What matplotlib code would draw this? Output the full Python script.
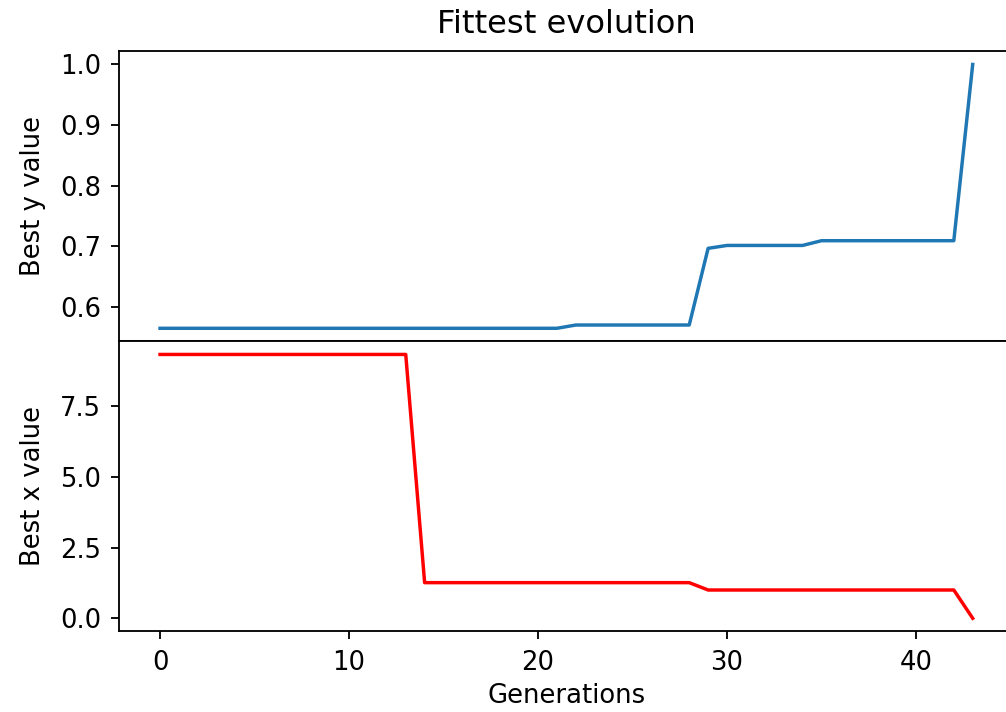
import matplotlib
matplotlib.use("Agg")
import matplotlib.pyplot as plt

generations = list(range(44))
best_y = ([0.5644] * 22 + [0.5698] * 7 + [0.6964] + [0.7012] * 5 + [0.7090] * 8 + [1.0])
best_x = ([9.33] * 14 + [1.26] * 15 + [1.0] * 14 + [0.0])

plt.rcParams["font.size"] = 11.3
plt.rcParams["axes.titlesize"] = 14
plt.rcParams["axes.labelsize"] = 11.3
plt.rcParams["xtick.labelsize"] = 11.3
plt.rcParams["ytick.labelsize"] = 11.3
plt.rcParams["xtick.major.pad"] = 4.5
plt.rcParams["ytick.major.pad"] = 4.5
plt.rcParams["axes.labelpad"] = 6

DPI = 165
fig = plt.figure(figsize=(1006 / DPI, 712 / DPI), dpi=DPI)
left, width = 0.1187, 0.8886
ax1 = fig.add_axes([left, 0.5204, width, 0.4076])
ax2 = fig.add_axes([left, 0.1131, width, 0.4076], sharex=ax1)

ax1.plot(generations, best_y, color="#1f77b4", linewidth=1.5)
ax2.plot(generations, best_x, color="red", linewidth=1.5)

ax1.set_title("Fittest evolution", pad=8)
ax1.set_ylabel("Best y value")
ax2.set_ylabel("Best x value")
ax2.set_xlabel("Generations", labelpad=3)
ax1.tick_params(labelbottom=False)
ax2.set_yticks([0.0, 2.5, 5.0, 7.5])
ax1.set_yticks([0.6, 0.7, 0.8, 0.9, 1.0])

fig.savefig("out.png", dpi=DPI)
